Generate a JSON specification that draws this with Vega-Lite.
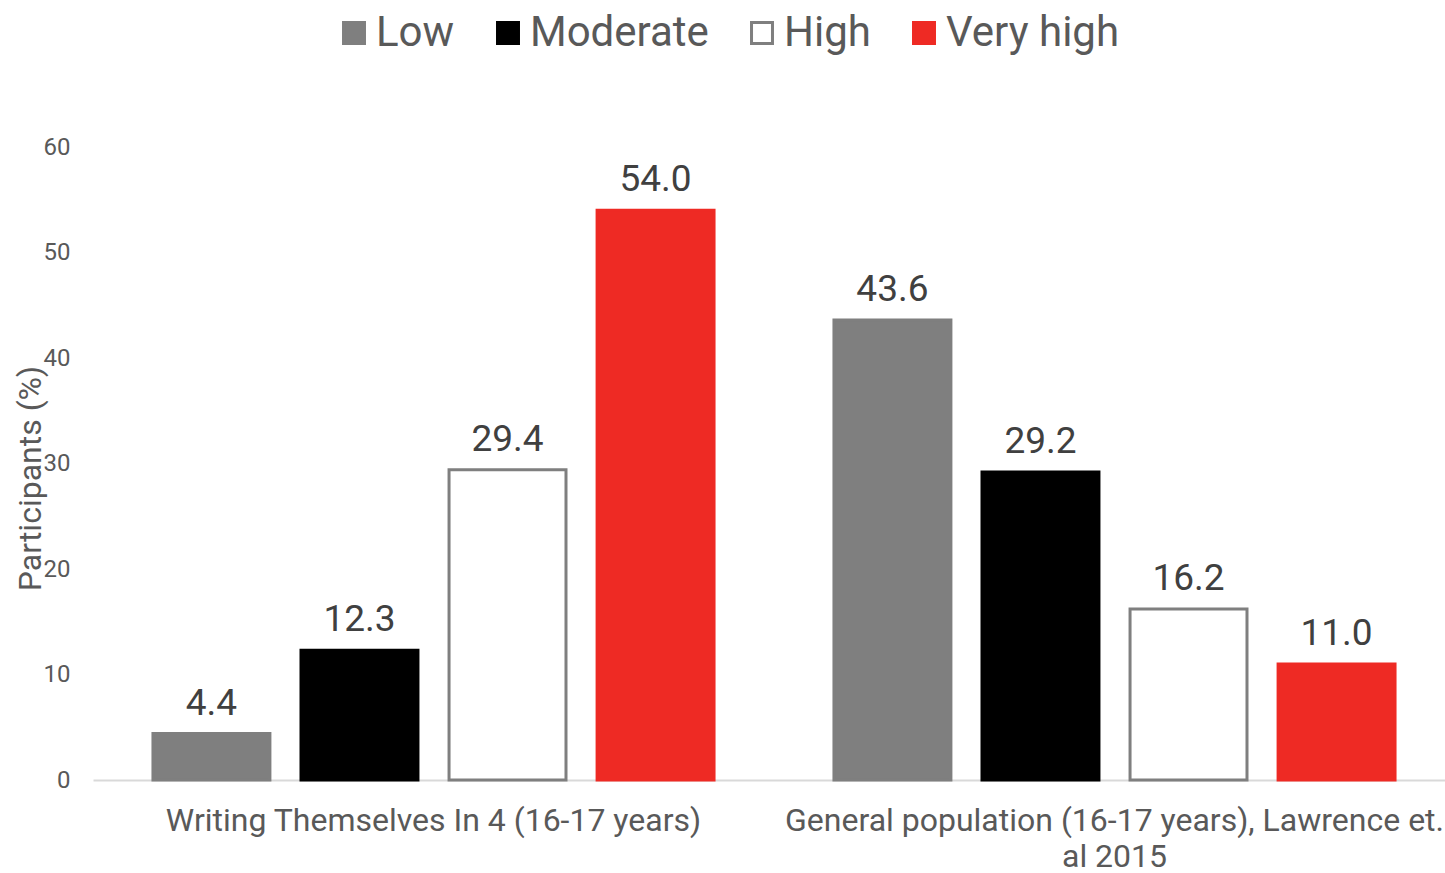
{
  "$schema": "https://vega.github.io/schema/vega-lite/v6.json",
  "width": 1352,
  "height": 633,
  "autosize": "none",
  "padding": {"left": 93, "top": 147, "right": 0, "bottom": 93},
  "config": {
    "font": "Roboto",
    "view": {"stroke": null},
    "background": "white"
  },
  "data": {
    "values": [
      {"group": "Writing Themselves In 4 (16-17 years)", "level": "Low", "value": 4.4},
      {"group": "Writing Themselves In 4 (16-17 years)", "level": "Moderate", "value": 12.3},
      {"group": "Writing Themselves In 4 (16-17 years)", "level": "High", "value": 29.4},
      {"group": "Writing Themselves In 4 (16-17 years)", "level": "Very high", "value": 54.0},
      {"group": "General population (16-17 years), Lawrence et. al 2015", "level": "Low", "value": 43.6},
      {"group": "General population (16-17 years), Lawrence et. al 2015", "level": "Moderate", "value": 29.2},
      {"group": "General population (16-17 years), Lawrence et. al 2015", "level": "High", "value": 16.2},
      {"group": "General population (16-17 years), Lawrence et. al 2015", "level": "Very high", "value": 11.0}
    ]
  },
  "encoding": {
    "x": {
      "field": "group",
      "type": "nominal",
      "sort": ["Writing Themselves In 4 (16-17 years)", "General population (16-17 years), Lawrence et. al 2015"],
      "scale": {"paddingInner": 0, "paddingOuter": 0, "range": [0, 1362]},
      "axis": {
        "title": null,
        "labelAngle": 0,
        "labelFontSize": 32,
        "labelColor": "#595959",
        "labelLimit": 0,
        "labelPadding": 25,
        "labelLineHeight": 36,
        "ticks": false,
        "domainColor": "#d9d9d9",
        "domainWidth": 2,
        "labelExpr": "datum.value == 'General population (16-17 years), Lawrence et. al 2015' ? ['General population (16-17 years), Lawrence et.', 'al 2015'] : datum.label"
      }
    },
    "xOffset": {
      "field": "level",
      "type": "nominal",
      "sort": ["Low", "Moderate", "High", "Very high"],
      "scale": {"paddingInner": 0.21, "paddingOuter": 0.405}
    },
    "y": {
      "field": "value",
      "type": "quantitative",
      "scale": {"domain": [0, 60], "nice": false},
      "axis": {
        "values": [0, 10, 20, 30, 40, 50, 60],
        "grid": false,
        "domain": false,
        "ticks": false,
        "labelFontSize": 24,
        "labelColor": "#595959",
        "labelPadding": 23,
        "title": "Participants (%)",
        "titleFontSize": 32,
        "titleFontWeight": "normal",
        "titleColor": "#595959",
        "titleX": -53,
        "titleY": 331,
        "titleAngle": -90,
        "titleBaseline": "alphabetic",
        "titleAlign": "center"
      }
    }
  },
  "layer": [
    {
      "mark": {"type": "bar", "strokeWidth": 3},
      "encoding": {
        "fill": {
          "field": "level",
          "type": "nominal",
          "sort": ["Low", "Moderate", "High", "Very high"],
          "scale": {"domain": ["Low", "Moderate", "High", "Very high"], "range": ["#7f7f7f", "#000000", "#ffffff", "#ee2a24"]},
          "legend": {
            "title": null,
            "orient": "none",
            "legendX": 240,
            "legendY": -135,
            "direction": "horizontal",
            "symbolType": "square",
            "symbolSize": 440,
            "symbolStrokeWidth": 3,
            "labelFontSize": 42,
            "labelColor": "#595959",
            "labelLimit": 0,
            "labelOffset": 1,
            "columnPadding": 32
          }
        },
        "stroke": {
          "field": "level",
          "type": "nominal",
          "sort": ["Low", "Moderate", "High", "Very high"],
          "scale": {"domain": ["Low", "Moderate", "High", "Very high"], "range": ["#7f7f7f", "#000000", "#7f7f7f", "#ee2a24"]}
        }
      }
    },
    {
      "mark": {"type": "text", "baseline": "alphabetic", "dy": -19, "fontSize": 37, "color": "#404040"},
      "encoding": {
        "text": {"field": "value", "type": "quantitative", "format": ".1f"}
      }
    }
  ]
}
